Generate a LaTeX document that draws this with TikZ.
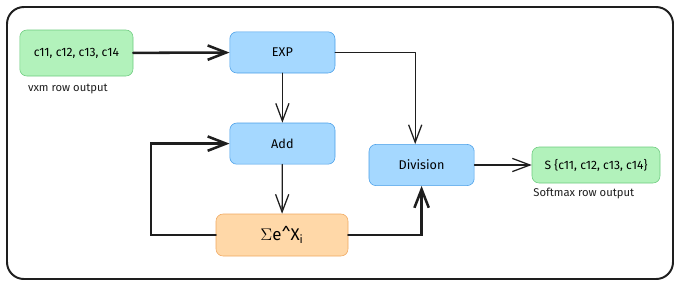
\documentclass[tikz,border=0pt]{standalone}
\usepackage{fontspec}
\setmainfont{Fira Sans}
\usetikzlibrary{positioning,arrows.meta}
\definecolor{NoteGreen}{HTML}{B2F2BB}
\definecolor{NoteGreenLine}{HTML}{6CCB7E}
\definecolor{StepBlue}{HTML}{A5D8FF}
\definecolor{StepBlueLine}{HTML}{4A9FE8}
\definecolor{SumOrange}{HTML}{FFD8A8}
\definecolor{SumOrangeLine}{HTML}{F0A860}
\definecolor{InkGray}{HTML}{1E1E1E}
\tikzset{
  flow/.style={-{Straight Barb[length=4.4mm,width=3.3mm]},line width=0.9pt,draw=InkGray,
    line cap=round,line join=round},
  boldflow/.style={-{Straight Barb[length=4.6mm,width=3.6mm]},line width=1.8pt,draw=InkGray,
    line cap=round},
  greenbox/.style={draw=NoteGreenLine,fill=NoteGreen,rounded corners=5pt,
    minimum height=1.15cm,minimum width=2.83cm,align=center,font=\fontsize{8.6}{10}\selectfont},
  bluebox/.style={draw=StepBlueLine,fill=StepBlue,rounded corners=5pt,
    minimum height=1.03cm,minimum width=2.63cm,align=center,font=\small},
  orangebox/.style={draw=SumOrangeLine,fill=SumOrange,rounded corners=5pt,
    minimum height=1.05cm,minimum width=3.3cm,align=center,font=\large},
  caption/.style={font=\footnotesize,text=InkGray,inner sep=1pt}
}
\begin{document}
\begin{tikzpicture}
  \useasboundingbox (0,0) rectangle (17,-7.175);
  \draw[line width=1.4pt,draw=InkGray,rounded corners=12pt] (0.175,-0.175) rectangle (16.825,-6.975);
  % inputs and steps
  \node[greenbox] (rowin) at (1.91,-1.325) {c11, c12, c13, c14};
  \node[caption,below=0.15cm of rowin.south west,anchor=north west,xshift=0.17cm] (rowinlbl) {vxm row output};
  \node[bluebox] (exp) at (7.06,-1.31) {EXP};
  \node[bluebox] (add) at (7.06,-3.59) {Add};
  \node[orangebox] (sum) at (7.05,-5.875) {$\Sigma$e\^{}X\textsubscript{i}};
  \node[bluebox] (div) at (10.54,-4.125) {Division};
  \node[greenbox,minimum width=3.2cm,minimum height=0.9cm] (rowout) at (14.9,-4.125) {S \{c11, c12, c13, c14\}};
  \node[caption,below=0.08cm of rowout.south west,anchor=north west] (rowoutlbl) {Softmax row output};
  % connectors
  \draw[boldflow] (rowin) -- (exp);
  \draw[flow] (exp) -- (add);
  \draw[flow] (add) -- (sum);
  \draw[flow] (exp.east) -| ([xshift=-0.16cm]div.north);
  \draw[boldflow] (sum.west) -- ++(-1.62,0) |- (add.west);
  \draw[boldflow] (sum.east) -| (div.south);
  \draw[flow] (div) -- (rowout);
\end{tikzpicture}
\end{document}
